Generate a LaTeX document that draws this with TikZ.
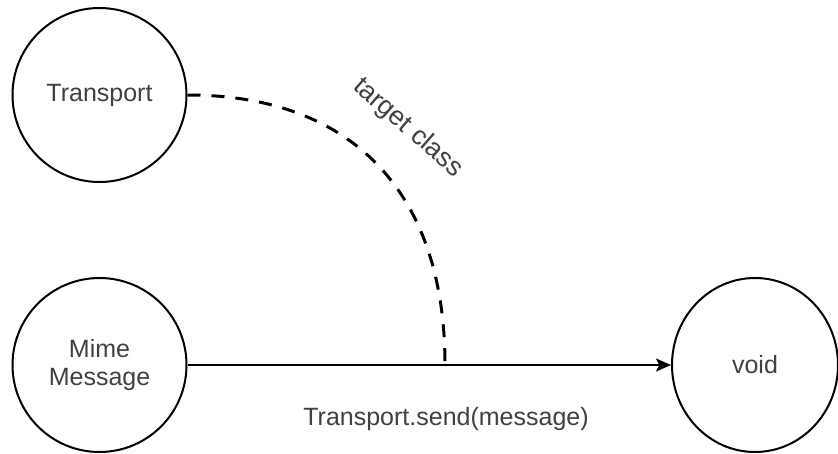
\documentclass[tikz,border=0pt]{standalone}
\usepackage{fontspec}
\setmainfont{Liberation Sans}
\usetikzlibrary{arrows.meta,shapes.geometric}
\begin{document}
\begin{tikzpicture}[x=0.75pt,y=-0.75pt,
  labeltext/.style={text=black!75,font=\fontsize{18.75}{21}\selectfont},
  statenode/.style={circle,draw=black,line width=1.5pt,inner sep=0pt,
    minimum size=130.5pt,align=center,labeltext},
  endnode/.style={ellipse,draw=black,line width=1.5pt,inner sep=0pt,
    minimum width=124.5pt,minimum height=130.5pt,align=center,labeltext},
  callline/.style={line width=1.5pt,-{Stealth[length=11.25pt,width=9.75pt,inset=2.5pt]}},
  targetline/.style={line width=2.25pt,dash pattern=on 9.75pt off 8.25pt}]
  \useasboundingbox (0,0) rectangle (838,453);

  % the three states
  \node[statenode] (transport) at (99.5,95) {Transport};
  \node[statenode] (mime) at (99.5,365) {Mime\\Message};
  \node[endnode] (void) at (755,365) {void};

  % the send call
  \draw[callline] (mime) -- (void);
  \node[labeltext] (sendlabel) at (446,419) {Transport.send(message)};

  % the target class link, landing on the call line
  \coordinate (join) at (445,365);
  \draw[targetline] (transport.east) .. controls (350,95) and (445,190) .. (join);
  \node[labeltext,font=\fontsize{20}{22}\selectfont,rotate=-41] (targetlabel) at (408,128) {target class};
\end{tikzpicture}
\end{document}
